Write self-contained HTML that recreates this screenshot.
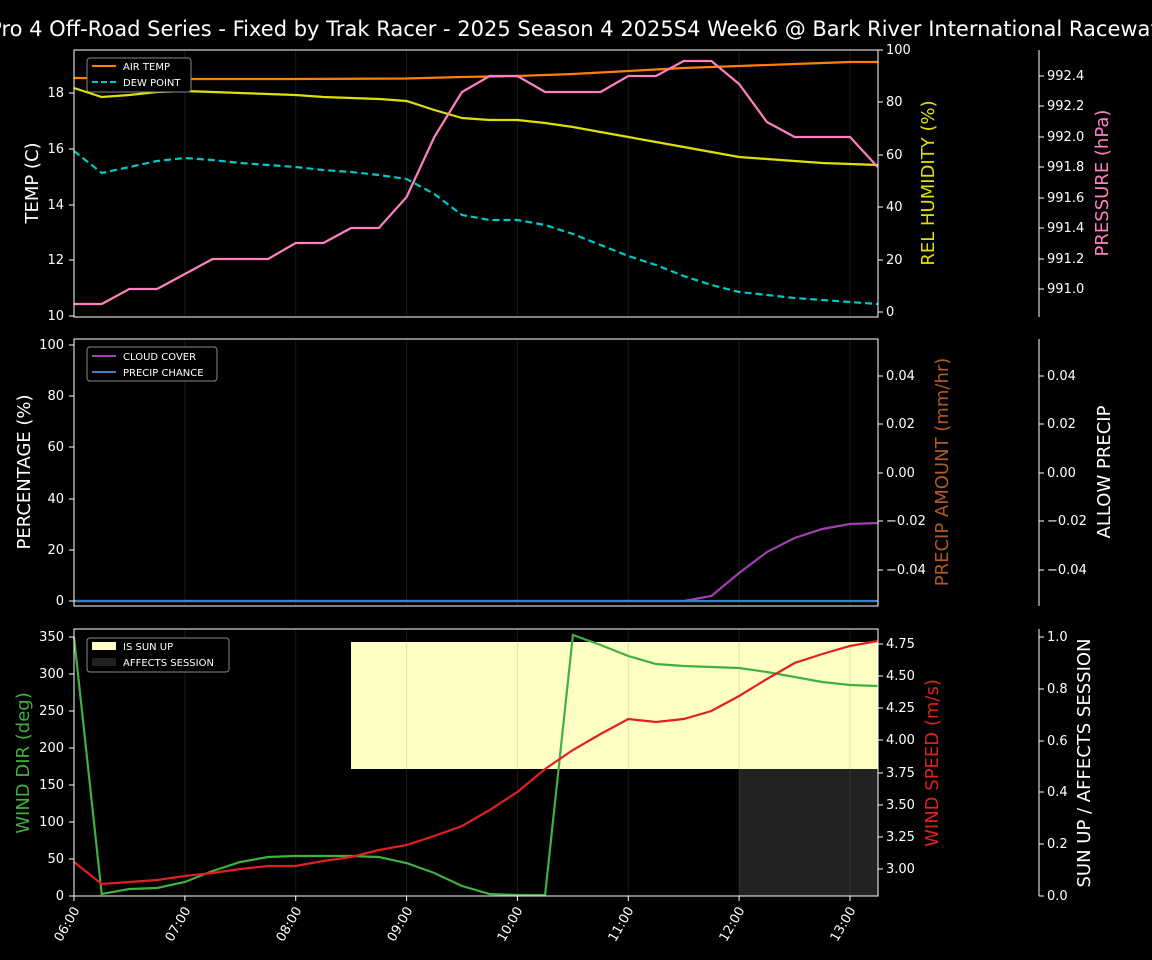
<!DOCTYPE html>
<html><head><meta charset="utf-8"><style>
body{margin:0;background:#000;width:1152px;height:960px;overflow:hidden}
svg{display:block}
text{font-family:"DejaVu Sans","Liberation Sans",sans-serif;fill:#fff}
.t{font-size:13px}
.l{font-size:18px}
.g{stroke:#000;stroke-opacity:0.12;stroke-width:1}
.gd{stroke:#fff;stroke-opacity:0.1;stroke-width:1}
</style></head><body>
<svg width="1152" height="960" viewBox="0 0 1152 960">
<text x="576" y="36" text-anchor="middle" style="font-size:21px">Pro 4 Off-Road Series - Fixed by Trak Racer - 2025 Season 4 2025S4 Week6 @ Bark River International Raceway</text>

<!-- grid lines -->
<g class="gd">
<line x1="184.9" y1="50" x2="184.9" y2="317"/><line x1="295.7" y1="50" x2="295.7" y2="317"/><line x1="406.6" y1="50" x2="406.6" y2="317"/><line x1="517.4" y1="50" x2="517.4" y2="317"/><line x1="628.3" y1="50" x2="628.3" y2="317"/><line x1="739.1" y1="50" x2="739.1" y2="317"/><line x1="850" y1="50" x2="850" y2="317"/>
<line x1="184.9" y1="339" x2="184.9" y2="606"/><line x1="295.7" y1="339" x2="295.7" y2="606"/><line x1="406.6" y1="339" x2="406.6" y2="606"/><line x1="517.4" y1="339" x2="517.4" y2="606"/><line x1="628.3" y1="339" x2="628.3" y2="606"/><line x1="739.1" y1="339" x2="739.1" y2="606"/><line x1="850" y1="339" x2="850" y2="606"/>
</g>

<!-- PANEL 1 -->
<polyline fill="none" stroke="#00c8c8" stroke-width="2.2" stroke-dasharray="7,4" points="74,151 101.7,173 129.4,167 157.1,161 184.9,158 212.6,160 240.3,163 268,165 295.7,167 323.4,170 351.1,172 378.9,175 406.6,179 434.3,194 462,215 489.7,220 517.4,220 545.1,225 572.9,234 600.6,245 628.3,256 656,265 683.7,276 711.4,285 739.1,292 766.9,295 794.6,298 822.3,300 850,302 877.7,304"/>
<polyline fill="none" stroke="#e0e000" stroke-width="2.2" points="74,88 101.7,97 129.4,95 157.1,92 184.9,91 212.6,92 240.3,93 268,94 295.7,95 323.4,97 351.1,98 378.9,99 406.6,101 434.3,110 462,118 489.7,120 517.4,120 545.1,123 572.9,127 600.6,132 628.3,137 656,142 683.7,147 711.4,152 739.1,157 766.9,159 794.6,161 822.3,163 850,164 877.7,165"/>
<polyline fill="none" stroke="#ff8000" stroke-width="2.2" points="74,78 184.9,79 295.7,79 406.6,78.5 462,77 517.4,76 572.9,74 628.3,71 683.7,68 739.1,66 794.6,64 850,62 877.7,62"/>
<polyline fill="none" stroke="#ff80c0" stroke-width="2.2" points="74,304 101.7,304 129.4,289 157.1,289 184.9,274 212.6,259 240.3,259 268,259 295.7,243 323.4,243 351.1,228 378.9,228 406.6,197 434.3,137 462,92 489.7,76 517.4,76 545.1,92 572.9,92 600.6,92 628.3,76 656,76 683.7,61 711.4,61 739.1,84 766.9,122 794.6,137 822.3,137 850,137 877.7,167"/>
<rect x="74" y="50" width="804" height="267" fill="none" stroke="#fff" stroke-width="1"/>
<rect x="87" y="58" width="104" height="34" fill="#000" stroke="#888" rx="3"/>
<line x1="92" y1="66" x2="116" y2="66" stroke="#ff8000" stroke-width="2"/><text x="123" y="70" style="font-size:10px">AIR TEMP</text>
<line x1="92" y1="82" x2="116" y2="82" stroke="#00c8c8" stroke-width="2" stroke-dasharray="6,3"/><text x="123" y="86" style="font-size:10px">DEW POINT</text>
<g class="t" text-anchor="end">
<text x="64" y="320">10</text><text x="64" y="264">12</text><text x="64" y="209">14</text><text x="64" y="153">16</text><text x="64" y="97">18</text>
</g>
<g stroke="#fff"><line x1="69" y1="316" x2="74" y2="316"/><line x1="69" y1="260" x2="74" y2="260"/><line x1="69" y1="205" x2="74" y2="205"/><line x1="69" y1="149" x2="74" y2="149"/><line x1="69" y1="93" x2="74" y2="93"/>
<line x1="878" y1="312" x2="883" y2="312"/><line x1="878" y1="260" x2="883" y2="260"/><line x1="878" y1="207" x2="883" y2="207"/><line x1="878" y1="155" x2="883" y2="155"/><line x1="878" y1="102" x2="883" y2="102"/><line x1="878" y1="50" x2="883" y2="50"/>
<line x1="1039" y1="50" x2="1039" y2="317"/>
<line x1="1039" y1="289" x2="1044" y2="289"/><line x1="1039" y1="259" x2="1044" y2="259"/><line x1="1039" y1="228" x2="1044" y2="228"/><line x1="1039" y1="198" x2="1044" y2="198"/><line x1="1039" y1="167" x2="1044" y2="167"/><line x1="1039" y1="137" x2="1044" y2="137"/><line x1="1039" y1="106" x2="1044" y2="106"/><line x1="1039" y1="76" x2="1044" y2="76"/></g>
<g class="t"><text x="886" y="316">0</text><text x="886" y="264">20</text><text x="886" y="211">40</text><text x="886" y="159">60</text><text x="886" y="106">80</text><text x="886" y="54">100</text>
<text x="1047" y="293">991.0</text><text x="1047" y="263">991.2</text><text x="1047" y="232">991.4</text><text x="1047" y="202">991.6</text><text x="1047" y="171">991.8</text><text x="1047" y="141">992.0</text><text x="1047" y="110">992.2</text><text x="1047" y="80">992.4</text></g>
<text class="l" transform="translate(38,183) rotate(-90)" text-anchor="middle">TEMP (C)</text>
<text class="l" transform="translate(934,183) rotate(-90)" text-anchor="middle" style="fill:#e0e000">REL HUMIDITY (%)</text>
<text class="l" transform="translate(1108,183) rotate(-90)" text-anchor="middle" style="fill:#ff80c0">PRESSURE (hPa)</text>

<!-- PANEL 2 -->
<polyline fill="none" stroke="#a040b0" stroke-width="2.2" points="74,601 683.7,601 711.4,596 739.1,573 766.9,552 794.6,538 822.3,529 850,524 877.7,523"/>
<line x1="74" y1="601" x2="878" y2="601" stroke="#4080c0" stroke-width="2.2"/>
<rect x="74" y="339" width="804" height="267" fill="none" stroke="#fff"/>
<rect x="87" y="347" width="130" height="34" fill="#000" stroke="#888" rx="3"/>
<line x1="92" y1="356" x2="116" y2="356" stroke="#a040b0" stroke-width="2"/><text x="123" y="360" style="font-size:10px">CLOUD COVER</text>
<line x1="92" y1="372" x2="116" y2="372" stroke="#4080c0" stroke-width="2"/><text x="123" y="376" style="font-size:10px">PRECIP CHANCE</text>
<g class="t" text-anchor="end"><text x="64" y="605">0</text><text x="64" y="554">20</text><text x="64" y="503">40</text><text x="64" y="451">60</text><text x="64" y="400">80</text><text x="64" y="349">100</text></g>
<g stroke="#fff"><line x1="69" y1="601" x2="74" y2="601"/><line x1="69" y1="550" x2="74" y2="550"/><line x1="69" y1="499" x2="74" y2="499"/><line x1="69" y1="447" x2="74" y2="447"/><line x1="69" y1="396" x2="74" y2="396"/><line x1="69" y1="345" x2="74" y2="345"/>
<line x1="878" y1="376" x2="883" y2="376"/><line x1="878" y1="424" x2="883" y2="424"/><line x1="878" y1="473" x2="883" y2="473"/><line x1="878" y1="521" x2="883" y2="521"/><line x1="878" y1="570" x2="883" y2="570"/>
<line x1="1039" y1="339" x2="1039" y2="606"/>
<line x1="1039" y1="376" x2="1044" y2="376"/><line x1="1039" y1="424" x2="1044" y2="424"/><line x1="1039" y1="473" x2="1044" y2="473"/><line x1="1039" y1="521" x2="1044" y2="521"/><line x1="1039" y1="570" x2="1044" y2="570"/></g>
<g class="t"><text x="886" y="380">0.04</text><text x="886" y="428">0.02</text><text x="886" y="477">0.00</text><text x="886" y="525">−0.02</text><text x="886" y="574">−0.04</text>
<text x="1047" y="380">0.04</text><text x="1047" y="428">0.02</text><text x="1047" y="477">0.00</text><text x="1047" y="525">−0.02</text><text x="1047" y="574">−0.04</text></g>
<text class="l" transform="translate(30,472) rotate(-90)" text-anchor="middle">PERCENTAGE (%)</text>
<text class="l" transform="translate(948,472) rotate(-90)" text-anchor="middle" style="fill:#b05a28">PRECIP AMOUNT (mm/hr)</text>
<text class="l" transform="translate(1110,472) rotate(-90)" text-anchor="middle">ALLOW PRECIP</text>

<!-- PANEL 3 -->
<rect x="351" y="642" width="527" height="127" fill="#ffffc5"/>
<rect x="739" y="769" width="139" height="127" fill="#222"/>
<g class="gd"><line x1="184.9" y1="629" x2="184.9" y2="896"/><line x1="295.7" y1="629" x2="295.7" y2="896"/></g>
<g class="g"><line x1="406.6" y1="642" x2="406.6" y2="769"/><line x1="517.4" y1="642" x2="517.4" y2="769"/><line x1="628.3" y1="642" x2="628.3" y2="769"/><line x1="739.1" y1="642" x2="739.1" y2="769"/><line x1="850" y1="642" x2="850" y2="769"/></g>
<g class="gd"><line x1="406.6" y1="629" x2="406.6" y2="642"/><line x1="517.4" y1="629" x2="517.4" y2="642"/><line x1="628.3" y1="629" x2="628.3" y2="642"/><line x1="739.1" y1="629" x2="739.1" y2="642"/><line x1="850" y1="629" x2="850" y2="642"/>
<line x1="406.6" y1="769" x2="406.6" y2="896"/><line x1="517.4" y1="769" x2="517.4" y2="896"/><line x1="628.3" y1="769" x2="628.3" y2="896"/><line x1="739.1" y1="769" x2="739.1" y2="896"/><line x1="850" y1="769" x2="850" y2="896"/></g>
<polyline fill="none" stroke="#40b040" stroke-width="2.2" points="74,637 101.7,894 129.4,889 157.1,888 184.9,882 212.6,871 240.3,862 268,857 295.7,856 323.4,856 351.1,856 378.9,857 406.6,863 434.3,873 462,886 489.7,894 517.4,895 545.1,895 572.9,635 600.6,645 628.3,656 656,664 683.7,666 711.4,667 739.1,668 766.9,672 794.6,677 822.3,682 850,685 877.7,686"/>
<polyline fill="none" stroke="#e02020" stroke-width="2.2" points="74,862 101.7,884 129.4,882 157.1,880 184.9,876 212.6,873 240.3,869 268,866 295.7,866 323.4,861 351.1,857 378.9,850 406.6,845 434.3,836 462,826 489.7,810 517.4,792 545.1,769 572.9,750 600.6,734 628.3,719 656,722 683.7,719 711.4,711 739.1,696 766.9,679 794.6,663 822.3,654 850,646 877.7,641"/>
<rect x="74" y="629" width="804" height="267" fill="none" stroke="#fff"/>
<rect x="87" y="638" width="142" height="34" fill="#000" stroke="#888" rx="3"/>
<rect x="92" y="642" width="24" height="8" fill="#ffffc5"/><text x="123" y="650" style="font-size:10px">IS SUN UP</text>
<rect x="92" y="658" width="24" height="8" fill="#222"/><text x="123" y="666" style="font-size:10px">AFFECTS SESSION</text>
<g class="t" text-anchor="end"><text x="64" y="900">0</text><text x="64" y="863">50</text><text x="64" y="826">100</text><text x="64" y="789">150</text><text x="64" y="752">200</text><text x="64" y="715">250</text><text x="64" y="678">300</text><text x="64" y="641">350</text></g>
<g stroke="#fff"><line x1="69" y1="896" x2="74" y2="896"/><line x1="69" y1="859" x2="74" y2="859"/><line x1="69" y1="822" x2="74" y2="822"/><line x1="69" y1="785" x2="74" y2="785"/><line x1="69" y1="748" x2="74" y2="748"/><line x1="69" y1="711" x2="74" y2="711"/><line x1="69" y1="674" x2="74" y2="674"/><line x1="69" y1="637" x2="74" y2="637"/>
<line x1="878" y1="869" x2="883" y2="869"/><line x1="878" y1="837" x2="883" y2="837"/><line x1="878" y1="805" x2="883" y2="805"/><line x1="878" y1="773" x2="883" y2="773"/><line x1="878" y1="740" x2="883" y2="740"/><line x1="878" y1="708" x2="883" y2="708"/><line x1="878" y1="676" x2="883" y2="676"/><line x1="878" y1="644" x2="883" y2="644"/>
<line x1="1039" y1="629" x2="1039" y2="896"/>
<line x1="1039" y1="896" x2="1044" y2="896"/><line x1="1039" y1="844" x2="1044" y2="844"/><line x1="1039" y1="792" x2="1044" y2="792"/><line x1="1039" y1="741" x2="1044" y2="741"/><line x1="1039" y1="689" x2="1044" y2="689"/><line x1="1039" y1="637" x2="1044" y2="637"/>
<line x1="74" y1="896" x2="74" y2="901"/><line x1="184.9" y1="896" x2="184.9" y2="901"/><line x1="295.7" y1="896" x2="295.7" y2="901"/><line x1="406.6" y1="896" x2="406.6" y2="901"/><line x1="517.4" y1="896" x2="517.4" y2="901"/><line x1="628.3" y1="896" x2="628.3" y2="901"/><line x1="739.1" y1="896" x2="739.1" y2="901"/><line x1="850" y1="896" x2="850" y2="901"/></g>
<g class="t"><text x="886" y="873">3.00</text><text x="886" y="841">3.25</text><text x="886" y="809">3.50</text><text x="886" y="777">3.75</text><text x="886" y="744">4.00</text><text x="886" y="712">4.25</text><text x="886" y="680">4.50</text><text x="886" y="648">4.75</text>
<text x="1047" y="900">0.0</text><text x="1047" y="848">0.2</text><text x="1047" y="796">0.4</text><text x="1047" y="745">0.6</text><text x="1047" y="693">0.8</text><text x="1047" y="641">1.0</text></g>
<g class="t" text-anchor="end">
<text transform="translate(80,910) rotate(-60)">06:00</text><text transform="translate(191,910) rotate(-60)">07:00</text><text transform="translate(302,910) rotate(-60)">08:00</text><text transform="translate(413,910) rotate(-60)">09:00</text><text transform="translate(523,910) rotate(-60)">10:00</text><text transform="translate(634,910) rotate(-60)">11:00</text><text transform="translate(745,910) rotate(-60)">12:00</text><text transform="translate(856,910) rotate(-60)">13:00</text></g>
<text class="l" transform="translate(29,763) rotate(-90)" text-anchor="middle" style="fill:#40b040">WIND DIR (deg)</text>
<text class="l" transform="translate(938,763) rotate(-90)" text-anchor="middle" style="fill:#e02020">WIND SPEED (m/s)</text>
<text class="l" transform="translate(1090,763) rotate(-90)" text-anchor="middle">SUN UP / AFFECTS SESSION</text>
</svg>
</body></html>
